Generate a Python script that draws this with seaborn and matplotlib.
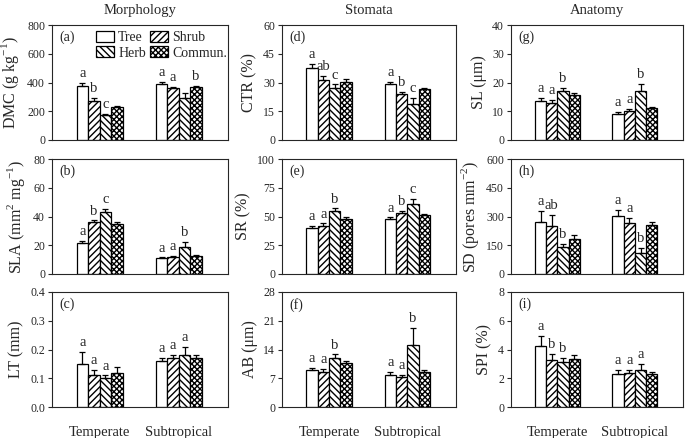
import seaborn as sns
import matplotlib.pyplot as plt
import pandas as pd
import numpy as np

sns.set_style("ticks")
plt.rcParams['font.family'] = ['Liberation Serif', 'DejaVu Serif']
plt.rcParams['hatch.linewidth'] = 1.0
plt.rcParams['mathtext.fontset'] = 'custom'
plt.rcParams['mathtext.rm'] = 'Liberation Serif'

regions = ["Temperate", "Subtropical"]
groups = ["Tree", "Shrub", "Herb", "Commun."]
hatches = ["", "/////", "\\\\\\\\\\", "xxxxxx"]

# means per panel: [Temperate x 4 groups, Subtropical x 4 groups]
dmc = [375, 268, 172, 228, 392, 360, 295, 368]
dmc_se = [20, 25, 8, 10, 12, 12, 35, 10]
dmc_let = ["a", "b", "c", "", "a", "a", "", "b"]

sla = [21.5, 36.5, 43, 34.5, 11, 12, 19, 12.5]
sla_se = [1.5, 0.8, 2.5, 2, 0.5, 0.8, 3, 0.5]
sla_let = ["a", "b", "c", "", "a", "a", "b", ""]

lt = [0.15, 0.11, 0.10, 0.12, 0.16, 0.17, 0.18, 0.17]
lt_se = [0.04, 0.02, 0.01, 0.02, 0.01, 0.01, 0.03, 0.01]
lt_let = ["a", "a", "a", "", "a", "a", "a", ""]

ctr = [37.5, 31.5, 27, 30.5, 29, 24, 19, 26.5]
ctr_se = [2, 2, 2, 1.5, 1.2, 1.2, 3, 0.8]
ctr_let = ["a", "ab", "c", "", "a", "b", "c", ""]

sr = [40, 42, 54.5, 48, 48, 53, 60.5, 51.5]
sr_se = [2, 2, 2.5, 1.5, 1.2, 2, 5, 1]
sr_let = ["a", "a", "b", "", "a", "b", "c", ""]

ab = [9, 8.5, 12, 10.8, 7.8, 7.3, 15, 8.5]
ab_se = [0.5, 0.8, 0.8, 0.5, 0.7, 0.5, 4.2, 0.6]
ab_let = ["a", "a", "b", "", "a", "a", "b", ""]

sl = [13.5, 12.8, 17, 15.5, 9.2, 10.2, 17, 11]
sl_se = [1.2, 1, 1, 0.7, 0.5, 0.5, 2.5, 0.4]
sl_let = ["a", "a", "b", "", "a", "a", "b", ""]

sd = [272, 248, 142, 183, 305, 268, 112, 255]
sd_se = [55, 60, 15, 18, 30, 25, 25, 15]
sd_let = ["a", "ab", "b", "", "a", "a", "b", ""]

spi = [4.25, 3.25, 3.1, 3.35, 2.3, 2.4, 2.55, 2.3]
spi_se = [0.7, 0.45, 0.3, 0.25, 0.25, 0.2, 0.45, 0.15]
spi_let = ["a", "b", "b", "", "a", "a", "a", ""]

panels = [
    ("(a)", r"DMC (g kg$^{-1}$)", dmc, dmc_se, dmc_let, 800, 200),
    ("(d)", "CTR (%)", ctr, ctr_se, ctr_let, 60, 15),
    ("(g)", "SL (\u03bcm)", sl, sl_se, sl_let, 40, 10),
    ("(b)", r"SLA (mm$^2$ mg$^{-1}$)", sla, sla_se, sla_let, 80, 20),
    ("(e)", "SR (%)", sr, sr_se, sr_let, 100, 25),
    ("(h)", r"SD (pores mm$^{-2}$)", sd, sd_se, sd_let, 600, 150),
    ("(c)", "LT (mm)", lt, lt_se, lt_let, 0.4, 0.1),
    ("(f)", "AB (\u03bcm)", ab, ab_se, ab_let, 28, 7),
    ("(i)", "SPI (%)", spi, spi_se, spi_let, 8, 2),
]
col_titles = ["Morphology", "Stomata", "Anatomy"]

fig = plt.figure(figsize=(6.85, 4.38), dpi=100)
lefts = [52, 282, 511]
widths = [176, 174, 172]
tops = [25, 159, 292]
height = 115

for i, (tag, ylab, vals, errs, lets, ymax, step) in enumerate(panels):
    r, c = divmod(i, 3)
    ax = fig.add_axes([lefts[c] / 685, 1 - (tops[r] + height) / 438,
                       widths[c] / 685, height / 438])
    df = pd.DataFrame({
        "region": np.repeat(regions, 4),
        "group": groups * 2,
        "value": vals,
    })
    sns.barplot(data=df, x="region", y="value", hue="group", order=regions,
                hue_order=groups, width=0.58, errorbar=None, ax=ax,
                palette=["white"] * 4, edgecolor="black", linewidth=0.9,
                legend=(i == 0))
    # bar containers are per hue level
    bar_conts = list(ax.containers)
    for gi, cont in enumerate(bar_conts):
        for ri, bar in enumerate(cont):
            bar.set_hatch(hatches[gi])
            k = ri * 4 + gi
            xc = bar.get_x() + bar.get_width() / 2
            top = vals[k] + errs[k]
            ax.errorbar(xc, vals[k], yerr=[[0], [errs[k]]], color="black",
                        capsize=2.5, elinewidth=0.9, capthick=0.9, fmt="none")
            if lets[k]:
                ax.text(xc, top + ymax * 0.025, lets[k], ha="center",
                        va="bottom", fontsize=10.5)
    ax.set_xlim(-0.6, 1.62)
    ax.set_ylim(0, ymax)
    ax.set_yticks(np.arange(0, ymax + step / 2, step))
    if ymax < 1:
        ax.set_yticklabels([f"{t:.1f}" for t in ax.get_yticks()])
    ax.tick_params(axis="y", direction="out", length=3, width=0.8,
                   labelsize=8.5, pad=2)
    ax.tick_params(axis="x", length=0, labelsize=10.5, pad=14)
    if r < 2:
        ax.set_xticklabels([])
    ax.set_xlabel("")
    ax.set_ylabel(ylab, fontsize=11.5, labelpad=4)
    for s in ax.spines.values():
        s.set_linewidth(0.8)
    ax.text(0.04, 0.95, tag, transform=ax.transAxes, ha="left", va="top",
            fontsize=10)
    if r == 0:
        ax.set_title(col_titles[c], fontsize=10.5, pad=8)
    if i == 0:
        h, l = ax.get_legend_handles_labels()
        for hh, ht in zip(h, hatches):
            hh.set_hatch(ht)
        order = [0, 2, 1, 3]
        ax.legend([h[o] for o in order], [l[o] for o in order], ncol=2,
                  frameon=False, loc="upper right", bbox_to_anchor=(1.05, 1.03),
                  fontsize=10, handlelength=1.3, handleheight=0.8,
                  handletextpad=0.3, columnspacing=0.3, labelspacing=0.15,
                  borderpad=0.2)

fig.savefig("out.png", dpi=100)
